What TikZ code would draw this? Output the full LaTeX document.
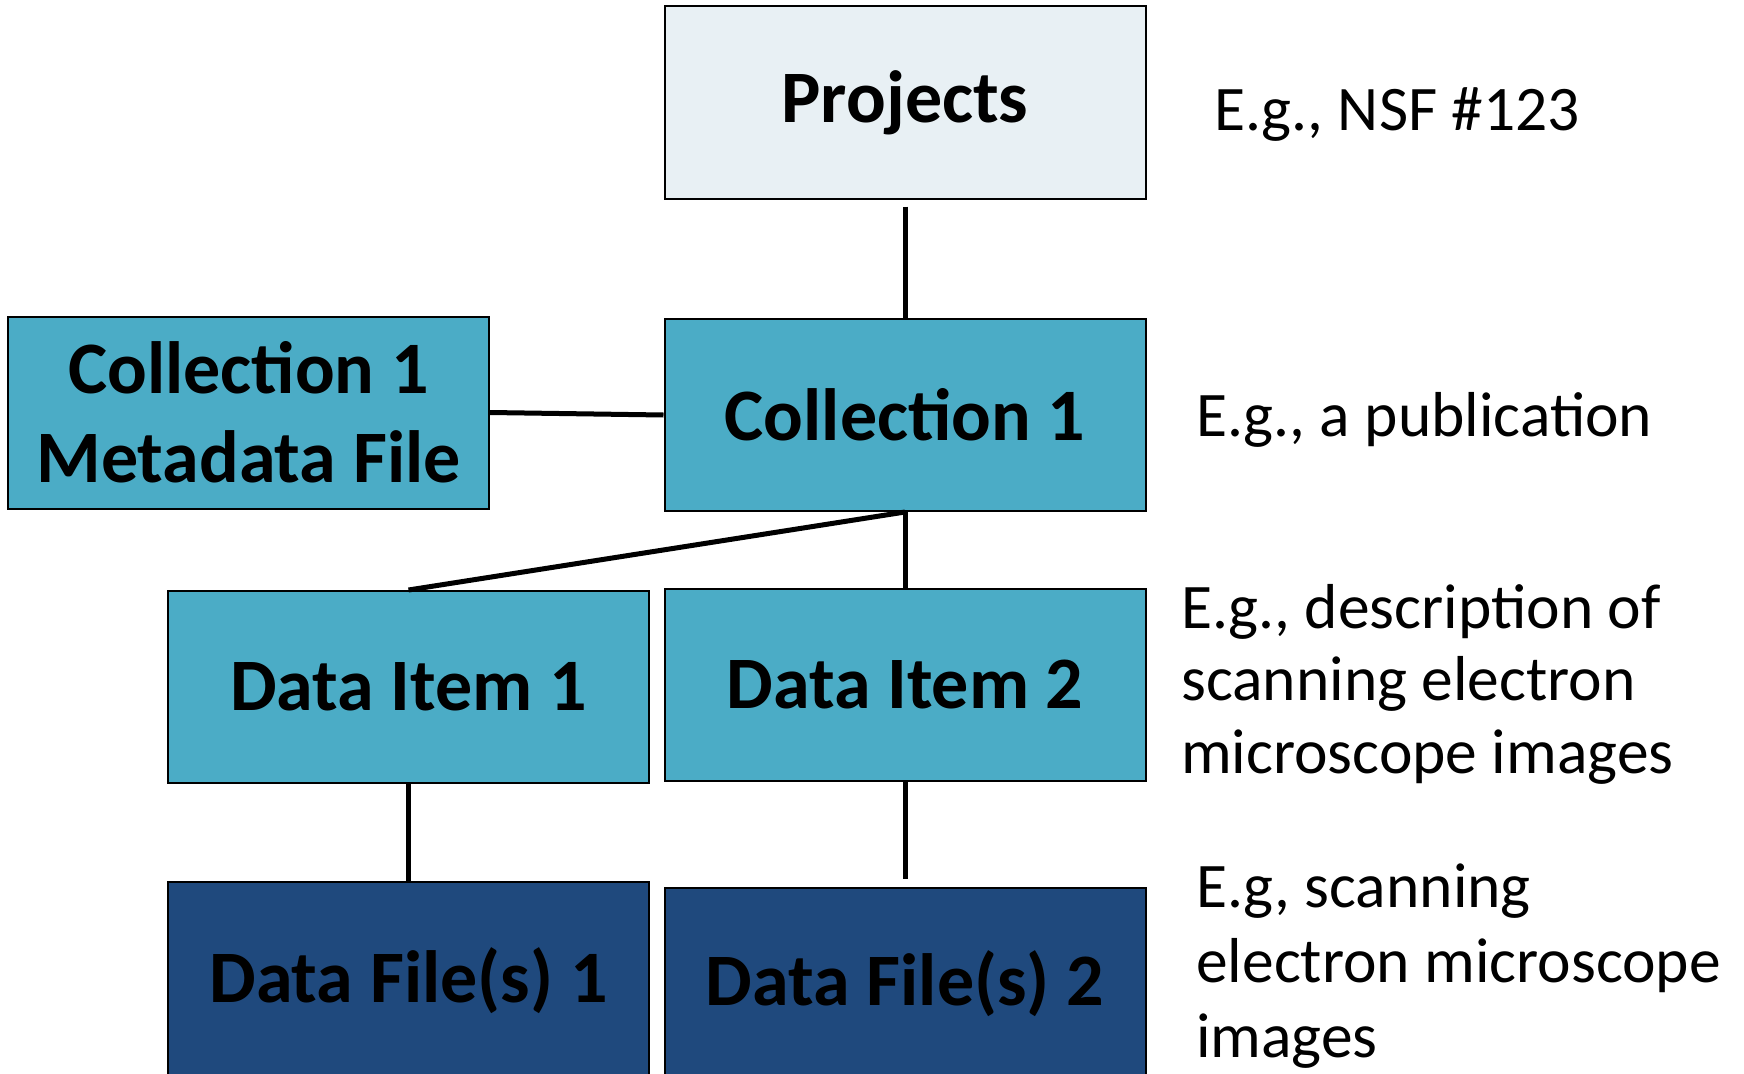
\documentclass[tikz,border=0pt]{standalone}
\usepackage{fontspec}
\setmainfont{Carlito}
\usepackage{tikz}
\usetikzlibrary{positioning}
\usepackage{xcolor}
\definecolor{projfill}{HTML}{E8F0F4}
\definecolor{tealfill}{HTML}{4BACC6}
\definecolor{navyfill}{HTML}{1F497D}

\begin{document}
\begin{tikzpicture}[
    x=1pt,
    y=-1pt,
    box/.style={draw, line width=2pt, align=center, minimum width=481pt, minimum height=192pt,
        inner sep=0pt, font=\bfseries\fontsize{74}{89}\selectfont},
    toplevel/.style={box, fill=projfill},
    level/.style={box, fill=tealfill},
    filebox/.style={box, fill=navyfill},
    note/.style={anchor=base west, align=left, inner sep=0pt, font=\fontsize{63.5}{74}\selectfont},
    link/.style={line width=5pt}
]
    \useasboundingbox (0,0) rectangle (1744,1073);

    \node[toplevel] (proj) at (905,102.5) {Projects};
    \node[level] (coll) at (905,415) {Collection 1};
    \node[level] (meta) at (248.5,412.5) {Collection 1\\Metadata File};
    \node[level] (item1) at (408.5,687) {Data Item 1};
    \node[level] (item2) at (905,684.5) {Data Item 2};
    \node[filebox, minimum height=198pt] (file1) at (408.5,981) {Data File(s) 1};
    \node[filebox] (file2) at (905,984) {Data File(s) 2};

    \draw[link, shorten <=7pt] (proj.south) -- (coll.north);
    \draw[link] (meta.east) -- (coll.west);
    \draw[link] (coll.south) -- (item1.north);
    \draw[link] (coll.south) -- (item2.north);
    \draw[link] (item1.south) -- (file1.north);
    \draw[link, shorten >=8pt] (item2.south) -- (file2.north);

    % notes: base anchor sits on the last line
    \node[note] (nproj) at (1214,130) {E.g., NSF \#123};
    \node[note] (ncoll) at (1196,436) {E.g., a publication};
    \node[note, font=\fontsize{63.5}{72.5}\selectfont] (nitem) at (1181,773) {E.g., description of\\scanning electron\\microscope images};
    \node[note, font=\fontsize{63.5}{75}\selectfont] (nfile) at (1196,1057) {E.g, scanning\\electron microscope\\images};
\end{tikzpicture}
\end{document}
